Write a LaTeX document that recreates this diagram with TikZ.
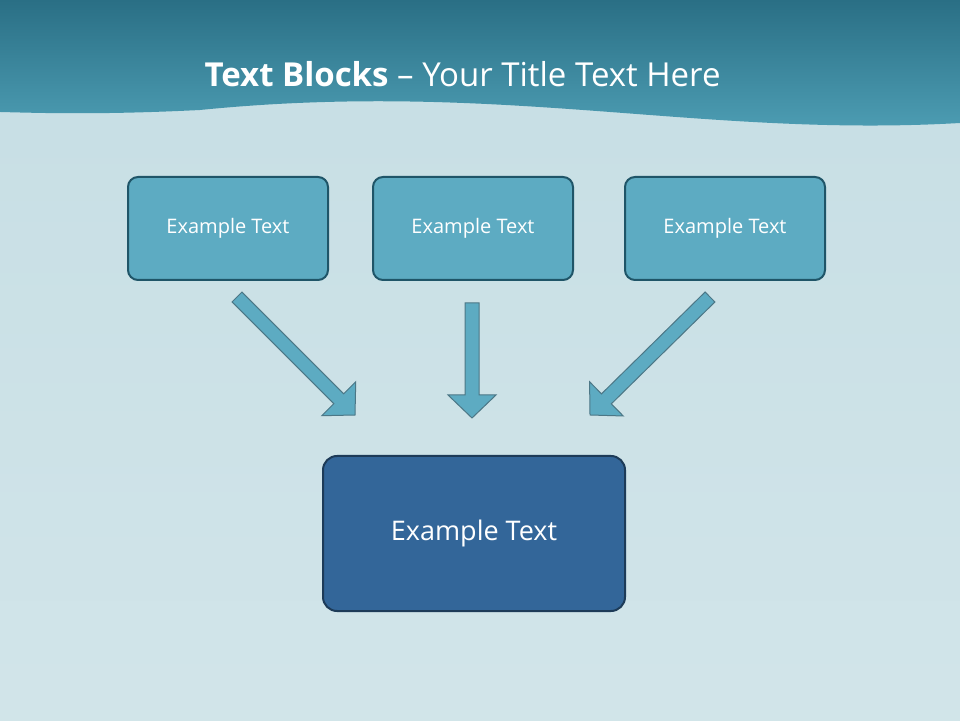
\documentclass[tikz,border=0pt]{standalone}
\usepackage{fontspec}
\setmainfont{Open Sans}
\usetikzlibrary{calc}
\definecolor{paper}{HTML}{C6DEE4}
\definecolor{bandtop}{HTML}{2A6F85}
\definecolor{bandlow}{HTML}{4FA0B6}
\definecolor{boxfill}{HTML}{5DABC2}
\definecolor{boxline}{HTML}{1F5568}
\definecolor{mainfill}{HTML}{336699}
\definecolor{mainline}{HTML}{1D3B58}
\tikzset{
    text-box/.style = {draw=boxline, fill=boxfill, line width=2pt, rectangle, rounded corners=10pt, minimum width=200pt, minimum height=103pt, text=white, font=\fontsize{20}{24}\selectfont},
    main-box/.style = {draw=mainline, fill=mainfill, line width=2pt, rectangle, rounded corners=14pt, minimum width=302pt, minimum height=155pt, text=white, font=\fontsize{27}{32}\selectfont},
    block-arrow/.style = {draw=boxline!80, fill=boxfill, line width=1pt},
}
\newcommand\blockarrow[2]{%
  \path[block-arrow] let \p1=($(#2)-(#1)$), \n1={atan2(\y1,\x1)}, \n2={veclen(\x1,\y1)} in
    [shift={(#1)}, rotate=\n1] (0,-7) -- (\n2-23,-7) -- (\n2-23,-24) -- (\n2,0) -- (\n2-23,24) -- (\n2-23,7) -- (0,7) -- cycle;}
\begin{document}
\begin{tikzpicture}[x=1pt, y=1pt]
\shade[top color=paper, bottom color=paper!80!white] (0,0) rectangle (960,720);
\shade[top color=bandtop, bottom color=bandlow] (0,720) -- (960,720) -- (960,597) .. controls (700,582) and (500,640) .. (200,610) .. controls (100,605) and (40,607) .. (0,608) -- cycle;
\node[text=white, font=\fontsize{33}{38}\selectfont, anchor=west] (title) at (201,646) {\textbf{Text Blocks} -- Your Title Text Here};
% upper row
\node[text-box] (left) at (228,491.5) {Example Text};
\node[text-box] (mid) at (473,491.5) {Example Text};
\node[text-box] (right) at (725,491.5) {Example Text};
\node[main-box] (main) at (474,186.5) {Example Text};
% arrows
\coordinate (a1) at (237,423);
\coordinate (b1) at (355,305);
\coordinate (a2) at (472,417);
\coordinate (b2) at (472,302);
\coordinate (a3) at (710,423);
\coordinate (b3) at (590,305);
\blockarrow{a1}{b1}
\blockarrow{a2}{b2}
\blockarrow{a3}{b3}
\end{tikzpicture}
\end{document}
